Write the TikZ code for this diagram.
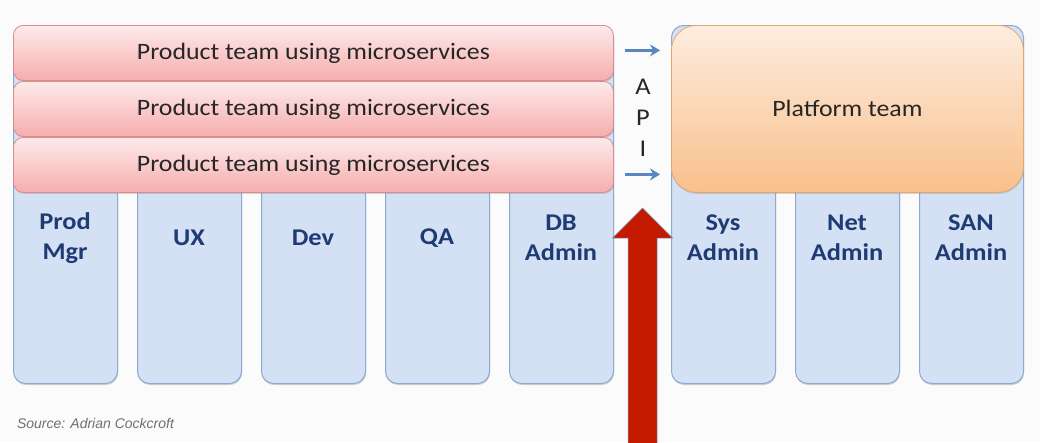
\documentclass[tikz,border=0pt]{standalone}
\usepackage{fontspec}
\setmainfont{Carlito}[FakeStretch=1.1]
\newfontfamily\srcfont{Liberation Sans}
\usetikzlibrary{arrows.meta,shadows}
\definecolor{colfill}{HTML}{D4E1F5}
\definecolor{coldraw}{HTML}{8EA9CF}
\definecolor{coltext}{HTML}{1F3B73}
\definecolor{pinktop}{HTML}{FDEAEA}
\definecolor{pinkbot}{HTML}{F6ADAD}
\definecolor{pinkdraw}{HTML}{DB8C8C}
\definecolor{orgtop}{HTML}{FDEDE0}
\definecolor{orgbot}{HTML}{F9C08B}
\definecolor{orgdraw}{HTML}{E3A86F}
\definecolor{apiblue}{HTML}{5A87BE}
\definecolor{bigred}{HTML}{C41A00}
\definecolor{bg}{HTML}{FBFBFB}
\definecolor{srcgray}{HTML}{707070}
\begin{document}
\begin{tikzpicture}[x=1pt,y=-1pt,
  teamcol/.style={draw=coldraw, line width=1pt, fill=colfill, rounded corners=12pt,
    minimum width=104pt, minimum height=358pt, anchor=north west, inner sep=0pt,
    drop shadow={shadow xshift=0.5pt, shadow yshift=-1.5pt, opacity=0.35}},
  collabel/.style={text=coltext, align=center, font=\bfseries\fontsize{24}{30}\selectfont},
  prodbar/.style={draw=pinkdraw, line width=0.8pt, top color=pinktop, bottom color=pinkbot,
    rounded corners=10pt, minimum width=600pt, minimum height=55pt, anchor=north west,
    inner sep=0pt, font=\fontsize{23.5}{26}\selectfont, text=black!85,
    drop shadow={shadow xshift=0.5pt, shadow yshift=-1.5pt, opacity=0.3}},
  platbox/.style={draw=orgdraw, line width=0.8pt, top color=orgtop, bottom color=orgbot,
    rounded corners=25pt, minimum width=352pt, minimum height=167pt, anchor=north west,
    inner sep=0pt, font=\fontsize{23.5}{26}\selectfont, text=black!85,
    drop shadow={shadow xshift=0.5pt, shadow yshift=-1.5pt, opacity=0.3}},
  apiarrow/.style={draw=apiblue, line width=2.4pt, -{Stealth[length=10pt,width=12pt]}},
  apitext/.style={align=center, font=\fontsize{24}{31}\selectfont, text=black!85},
  bigarrow/.style={fill=bigred, draw=apiblue!80, line width=0.5pt},
  srctext/.style={anchor=west, text=srcgray, font=\srcfont\itshape\fontsize{14}{16}\selectfont}
]
\useasboundingbox (0,0) rectangle (1040,442);
\fill[bg] (0,0) rectangle (1040,442);

% columns
\node[teamcol] (c1) at (13,25) {};
\node[teamcol] (c2) at (137,25) {};
\node[teamcol] (c3) at (261,25) {};
\node[teamcol] (c4) at (385,25) {};
\node[teamcol] (c5) at (509,25) {};
\node[teamcol] (c6) at (671,25) {};
\node[teamcol] (c7) at (795,25) {};
\node[teamcol] (c8) at (919,25) {};

\node[collabel] (l1) at (65,238) {Prod\\Mgr};
\node[collabel] (l2) at (189,238) {UX};
\node[collabel] (l3) at (313,238) {Dev};
\node[collabel] (l4) at (437,238) {QA};
\node[collabel] (l5) at (561,238) {DB\\Admin};
\node[collabel] (l6) at (723,238) {Sys\\Admin};
\node[collabel] (l7) at (847,238) {Net\\Admin};
\node[collabel] (l8) at (971,238) {SAN\\Admin};

% product team bars
\node[prodbar] (b1) at (13,25) {Product team using microservices};
\node[prodbar] (b2) at (13,81) {Product team using microservices};
\node[prodbar] (b3) at (13,137) {Product team using microservices};

% platform team
\node[platbox] (plat) at (671,25) {Platform team};

% API
\node[apitext] (api) at (643,118) {A\\P\\I};
\coordinate (a1) at ([xshift=11pt,yshift=2.5pt]b1.east);
\coordinate (a2) at ([xshift=11pt,yshift=-9.5pt]b3.east);
\draw[apiarrow] (a1) -- ([xshift=-11pt]a1 -| plat.west);
\draw[apiarrow] (a2) -- ([xshift=-11pt]a2 -| plat.west);

% big red arrow
\filldraw[bigarrow] (628,446) -- (628,238) -- (612.5,238) -- (642.5,208) -- (672.5,238) -- (657,238) -- (657,446) -- cycle;

\node[srctext] (src) at (13.5,423) {Source: Adrian Cockcroft};
\end{tikzpicture}
\end{document}
